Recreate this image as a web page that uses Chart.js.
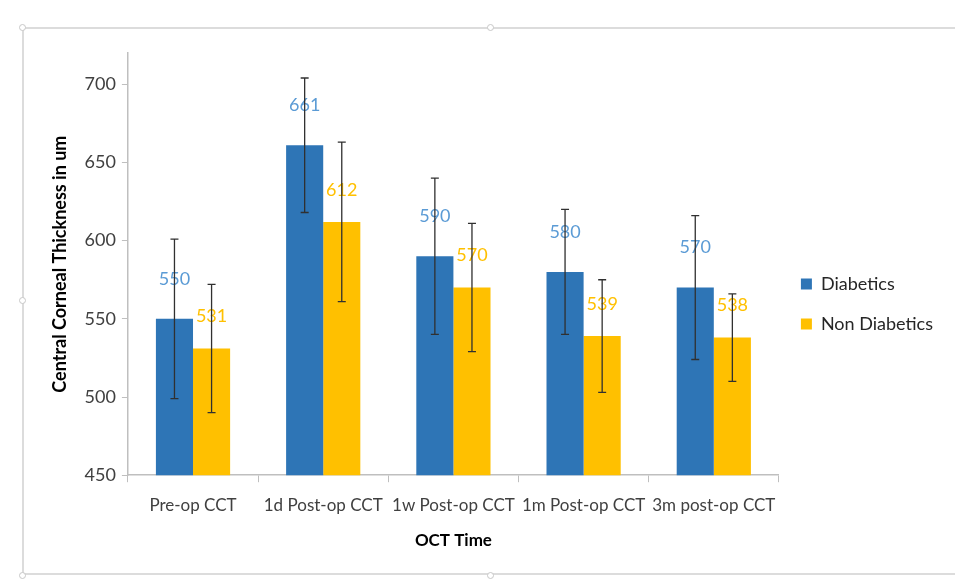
<!DOCTYPE html>
<html>
<head>
<meta charset="utf-8">
<script src="https://cdn.jsdelivr.net/npm/chart.js@4/dist/chart.umd.min.js"></script>
<style>
  html, body { margin: 0; padding: 0; background: #fff; }
  #wrap { position: relative; width: 955px; height: 582px; overflow: hidden; }
  #frame { position: absolute; left: 22px; top: 27px; width: 960px; height: 548px;
           border: 2px solid #dcdcdc; box-sizing: border-box; }
  .dot { position: absolute; width: 7px; height: 7px; border: 1px solid #c8c8c8;
         border-radius: 50%; background: #fff; box-sizing: border-box; }
  canvas { position: absolute; left: 0; top: 0; }
</style>
</head>
<body>
<div id="wrap">
  <div id="frame"></div>
  <div class="dot" style="left:19px;top:24px"></div>
  <div class="dot" style="left:487px;top:24px"></div>
  <div class="dot" style="left:19px;top:297px"></div>
  <div class="dot" style="left:19px;top:572px"></div>
  <div class="dot" style="left:487px;top:572px"></div>
  <canvas id="myChart" width="955" height="582"></canvas>
</div>
<script>
'use strict';
// values
let categories = ['Pre-op CCT', '1d Post-op CCT', '1w Post-op CCT', '1m Post-op CCT', '3m post-op CCT'];
let diabetics = [550, 661, 590, 580, 570];
let nonDiabetics = [531, 612, 570, 539, 538];
let diabeticsErr = [51, 43, 50, 40, 46];
let nonDiabeticsErr = [41, 51, 41, 36, 28];
let yTicks = [450, 500, 550, 600, 650, 700];

let fontName = 'Lato, "Open Sans", sans-serif';
let errors = [diabeticsErr, nonDiabeticsErr];
let labelColors = ['#5b9bd5', '#ffc000'];
let labelOffsets = [40, 32];

// data labels above each bar
let barLabels = {
    id: 'barLabels',
    afterDatasetsDraw(chart) {
        let ctx = chart.ctx;
        ctx.save();
        ctx.font = '18px ' + fontName;
        ctx.textAlign = 'center';
        ctx.textBaseline = 'middle';
        chart.data.datasets.forEach(function (ds, i) {
            let meta = chart.getDatasetMeta(i);
            ctx.fillStyle = labelColors[i];
            meta.data.forEach(function (bar, j) {
                ctx.fillText(ds.data[j], bar.x, bar.y - labelOffsets[i]);
            });
        });
        ctx.restore();
    }
};

// error bars drawn through the y scale
let errorBars = {
    id: 'errorBars',
    afterDatasetsDraw(chart) {
        let ctx = chart.ctx;
        let y = chart.scales.y;
        ctx.save();
        ctx.strokeStyle = '#303030';
        ctx.lineWidth = 1.3;
        chart.data.datasets.forEach(function (ds, i) {
            let meta = chart.getDatasetMeta(i);
            meta.data.forEach(function (bar, j) {
                let top = y.getPixelForValue(ds.data[j] + errors[i][j]);
                let bottom = y.getPixelForValue(ds.data[j] - errors[i][j]);
                ctx.beginPath();
                ctx.moveTo(bar.x, top);
                ctx.lineTo(bar.x, bottom);
                ctx.moveTo(bar.x - 4, top);
                ctx.lineTo(bar.x + 4, top);
                ctx.moveTo(bar.x - 4, bottom);
                ctx.lineTo(bar.x + 4, bottom);
                ctx.stroke();
            });
        });
        ctx.restore();
    }
};

let ctx = document.getElementById('myChart').getContext('2d');
let myChart = new Chart(ctx, {
    type: 'bar',
    data: {
        labels: categories,
        datasets: [{
            label: 'Diabetics',
            data: diabetics,
            backgroundColor: '#2e75b6',
            barPercentage: 1,
            categoryPercentage: 0.57
        }, {
            label: 'Non Diabetics',
            data: nonDiabetics,
            backgroundColor: '#ffc000',
            barPercentage: 1,
            categoryPercentage: 0.57
        }]
    },
    options: {
        responsive: false,
        animation: false,
        layout: { padding: { left: 45, right: 12, top: 53, bottom: 27 } },
        plugins: {
            tooltip: { enabled: false },
            legend: {
                position: 'right',
                labels: {
                    boxWidth: 11,
                    boxHeight: 11,
                    padding: 22,
                    color: '#262626',
                    font: { family: fontName, size: 18 }
                }
            }
        },
        scales: {
            x: {
                grid: { display: true, drawOnChartArea: false, drawTicks: true, tickLength: 7, color: '#bfbfbf', offset: true },
                border: { color: '#bfbfbf', width: 1.5 },
                ticks: { color: '#404040', font: { family: fontName, size: 17 }, maxRotation: 0, autoSkip: false, padding: 13 },
                title: { display: true, text: 'OCT Time', color: '#000', font: { family: fontName, size: 17, weight: 'bold' }, padding: { top: 2 } }
            },
            y: {
                min: 450,
                max: 720,
                afterBuildTicks: function (scale) {
                    scale.ticks = yTicks.map(function (v) { return { value: v }; });
                },
                grid: { display: true, drawOnChartArea: false, drawTicks: true, tickLength: 6, color: '#bfbfbf' },
                border: { color: '#bfbfbf', width: 1.5 },
                ticks: { color: '#404040', font: { family: fontName, size: 18 }, padding: 6 },
                title: { display: true, text: 'Central Corneal Thickness in um', color: '#000', font: { family: fontName, size: 18, weight: 'bold' }, padding: { bottom: 8 } }
            }
        }
    },
    plugins: [barLabels, errorBars]
});
</script>
</body>
</html>
